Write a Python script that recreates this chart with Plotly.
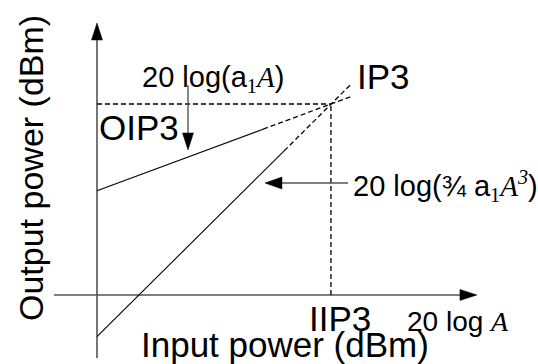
import plotly.graph_objects as go

# ---- levels (dBm) -------------------------------------------------------
IIP3 = 10.0
OIP3 = 22.0

# fundamental response (slope 1): solid part, then dashed extrapolation
fund_in_solid = [0.0, 7.1]
fund_out_solid = [12.0, 19.1]
fund_in_dash = [7.1, 10.9]
fund_out_dash = [19.1, 22.9]

# third-order intermodulation response: solid part, then dashed extrapolation
im3_in_solid = [0.0, 8.0]
im3_out_solid = [-4.8, 16.6]
im3_in_dash = [8.0, 10.9]
im3_out_dash = [16.6, 24.4]

# axis extents
x_axis_span = [-1.84, 16.24]
y_axis_span = [-7.26, 31.33]

# ---- figure geometry -----------------------------------------------------
W, H = 538, 364
X_RANGE = [-4.145, 18.85]
Y_RANGE = [-7.95, 33.98]
SX = W / (X_RANGE[1] - X_RANGE[0])   # px per x unit
SY = H / (Y_RANGE[1] - Y_RANGE[0])   # px per y unit

AXIS_GREY = "#555555"
SANS = "Liberation Sans, Arial, Helvetica, sans-serif"
SERIF = "Liberation Serif, Times New Roman, serif"


def arrow_head(tip_x, tip_y, direction, length_px, width_px):
    """Filled triangular head whose tip sits at (tip_x, tip_y)."""
    L, w = length_px, width_px / 2
    if direction == "up":
        xs = [tip_x, tip_x - w / SX, tip_x + w / SX, tip_x]
        ys = [tip_y, tip_y - L / SY, tip_y - L / SY, tip_y]
    elif direction == "down":
        xs = [tip_x, tip_x - w / SX, tip_x + w / SX, tip_x]
        ys = [tip_y, tip_y + L / SY, tip_y + L / SY, tip_y]
    elif direction == "right":
        xs = [tip_x, tip_x - L / SX, tip_x - L / SX, tip_x]
        ys = [tip_y, tip_y + w / SY, tip_y - w / SY, tip_y]
    else:  # left
        xs = [tip_x, tip_x + L / SX, tip_x + L / SX, tip_x]
        ys = [tip_y, tip_y + w / SY, tip_y - w / SY, tip_y]
    return go.Scatter(x=xs, y=ys, mode="lines", fill="toself",
                      fillcolor="black", line=dict(color="black", width=0.5),
                      hoverinfo="skip", showlegend=False)


def seg(xs, ys, color="black", width=1, dash="solid"):
    return go.Scatter(x=xs, y=ys, mode="lines",
                      line=dict(color=color, width=width, dash=dash),
                      hoverinfo="skip", showlegend=False)


fig = go.Figure()

# axes with arrowheads
HEAD_L, HEAD_W = 17, 11
fig.add_trace(seg([0, 0], [y_axis_span[0], y_axis_span[1] - HEAD_L / SY],
                  AXIS_GREY, 1.6))
fig.add_trace(arrow_head(0, y_axis_span[1], "up", HEAD_L, HEAD_W))
fig.add_trace(seg([x_axis_span[0], x_axis_span[1] - HEAD_L / SX], [0, 0],
                  AXIS_GREY, 1.6))
fig.add_trace(arrow_head(x_axis_span[1], 0, "right", HEAD_L, HEAD_W))

# projections of the intercept point onto both axes
fig.add_trace(seg([0, IIP3], [OIP3, OIP3], width=1.3, dash="5px,3px"))
fig.add_trace(seg([IIP3, IIP3], [0, OIP3], width=1.3, dash="5px,3px"))

# response lines
fig.add_trace(seg(fund_in_solid, fund_out_solid, width=1.1))
fig.add_trace(seg(fund_in_dash, fund_out_dash, width=1.3, dash="5px,3px"))
fig.add_trace(seg(im3_in_solid, im3_out_solid, width=1.1))
fig.add_trace(seg(im3_in_dash, im3_out_dash, width=1.3, dash="5px,3px"))

# pointer to the fundamental line
gain_x = 3.89
fig.add_trace(seg([gain_x, gain_x], [24.2, 16.7 + 17 / SY], AXIS_GREY, 1.4))
fig.add_trace(arrow_head(gain_x, 16.7, "down", 17, 11))

# pointer to the third-order line
im3_y = 12.9
fig.add_trace(seg([10.73, 7.18 + 17 / SX], [im3_y, im3_y], AXIS_GREY, 1.4))
fig.add_trace(arrow_head(7.18, im3_y, "left", 17, 12))

# ---- labels ----------------------------------------------------------------
BIG = 35
MID = 29
SMALL = 28


def label(x, y, text, size, xanchor="center", yanchor="middle", angle=0):
    fig.add_annotation(x=x, y=y, xref="x", yref="y", text=text,
                       showarrow=False, xanchor=xanchor, yanchor=yanchor,
                       textangle=angle,
                       font=dict(family=SANS, size=size, color="black"))


def px_x(p):
    return X_RANGE[0] + p / SX


def px_y(p):
    return Y_RANGE[1] - p / SY


label(px_x(31), px_y(168), "Output power (dBm)", 34, angle=-90)
label(px_x(285), px_y(344), "Input power (dBm)", BIG)
label(px_x(97), px_y(127), "OIP3", BIG, xanchor="left")
label(px_x(355), px_y(76), "IP3", BIG, xanchor="left")
label(px_x(340), px_y(318), "IIP3", BIG)
label(px_x(140), px_y(79),
      "20 log(a<sub><span style='font-family:Liberation Serif'>1</span></sub>"
      "<span style='font-family:Liberation Serif'><i>A</i></span>)",
      MID, xanchor="left")
label(px_x(351), px_y(186),
      "20 log(¾ a<sub><span style='font-family:Liberation Serif'>1</span></sub>"
      "<span style='font-family:Liberation Serif'><i>A</i>"
      "<sup><i>3</i></sup></span>)",
      29, xanchor="left")
label(px_x(405), px_y(321),
      "20 log\u00a0<span style='font-family:Liberation Serif'><i>A</i></span>",
      SMALL, xanchor="left")

fig.update_layout(
    width=W, height=H,
    margin=dict(l=0, r=0, t=0, b=0),
    paper_bgcolor="white", plot_bgcolor="white",
    showlegend=False,
    xaxis=dict(range=X_RANGE, visible=False, fixedrange=True),
    yaxis=dict(range=Y_RANGE, visible=False, fixedrange=True),
)

fig.write_html("out.html")
